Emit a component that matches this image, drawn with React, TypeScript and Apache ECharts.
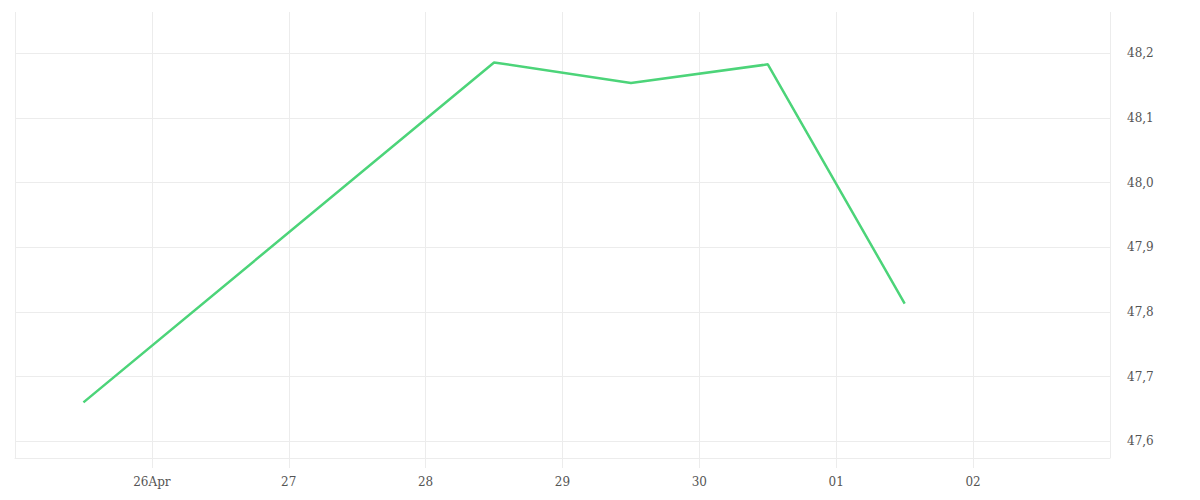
import React, { useEffect, useRef } from "react";
import * as echarts from "echarts";

const dates: string[] = ["2025-04-25", "2025-04-28", "2025-04-29", "2025-04-30", "2025-05-01"];
const values: number[] = [47.66, 48.186, 48.154, 48.183, 47.813];
const axisStart = "2025-04-25";
const axisDays = 8;
const monthNames: string[] = ["Jan", "Feb", "Mar", "Apr", "May", "Jun", "Jul", "Aug", "Sep", "Oct", "Nov", "Dec"];
const yMin = 47.574;
const yMax = 48.264;

const DAY = 86400000;
function parseUTC(s: string): number {
  const [y, m, d] = s.split("-").map(Number);
  return Date.UTC(y, m - 1, d);
}
const base = parseUTC(axisStart);

export default function App() {
  const ref = useRef<HTMLDivElement>(null);
  useEffect(() => {
    if (!ref.current) return;
    const chart = echarts.init(ref.current, null, { renderer: "svg" });
    const data = dates.map((d, i) => [(parseUTC(d) - base) / DAY + 0.5, values[i]]);
    const gridColor = "#ececec";
    const textColor = "#555";
    const font = "'DejaVu Serif', serif";
    chart.setOption({
      animation: false,
      grid: { left: 15, right: 90, top: 12, bottom: 42, containLabel: false },
      xAxis: {
        type: "value",
        min: 0,
        max: axisDays,
        interval: 1,
        axisLine: { show: true, lineStyle: { color: gridColor, width: 1 } },
        axisTick: { show: true, length: 10, lineStyle: { color: gridColor } },
        splitLine: { show: true, lineStyle: { color: gridColor, width: 1 } },
        axisLabel: {
          showMinLabel: false,
          showMaxLabel: false,
          margin: 18,
          color: textColor,
          fontFamily: font,
          fontSize: 12,
          formatter: (v: number) => {
            const dt = new Date(base + v * DAY);
            const d = dt.getUTCDate();
            const s = d < 10 ? "0" + d : "" + d;
            if (v === 1) return s + monthNames[dt.getUTCMonth()];
            return s;
          },
        },
      },
      yAxis: {
        type: "value",
        position: "right",
        min: yMin,
        max: yMax,
        splitNumber: 7,
        axisLine: { show: false },
        axisTick: { show: false },
        splitLine: { show: true, showMaxLine: false, lineStyle: { color: gridColor, width: 1 } },
        axisLabel: {
          showMinLabel: false,
          showMaxLabel: false,
          margin: 17,
          color: textColor,
          fontFamily: font,
          fontSize: 12,
          formatter: (v: number) => v.toFixed(1).replace(".", ","),
        },
      },
      series: [
        {
          type: "line",
          data,
          showSymbol: false,
          symbol: "none",
          lineStyle: { color: "#4cd479", width: 2.5 },
          itemStyle: { color: "#4cd479" },
        },
      ],
    });
    return () => chart.dispose();
  }, []);
  return (
    <div
      ref={ref}
      style={{ position: "absolute", left: 0, top: 0, width: 1200, height: 500, background: "#fff" }}
    />
  );
}
